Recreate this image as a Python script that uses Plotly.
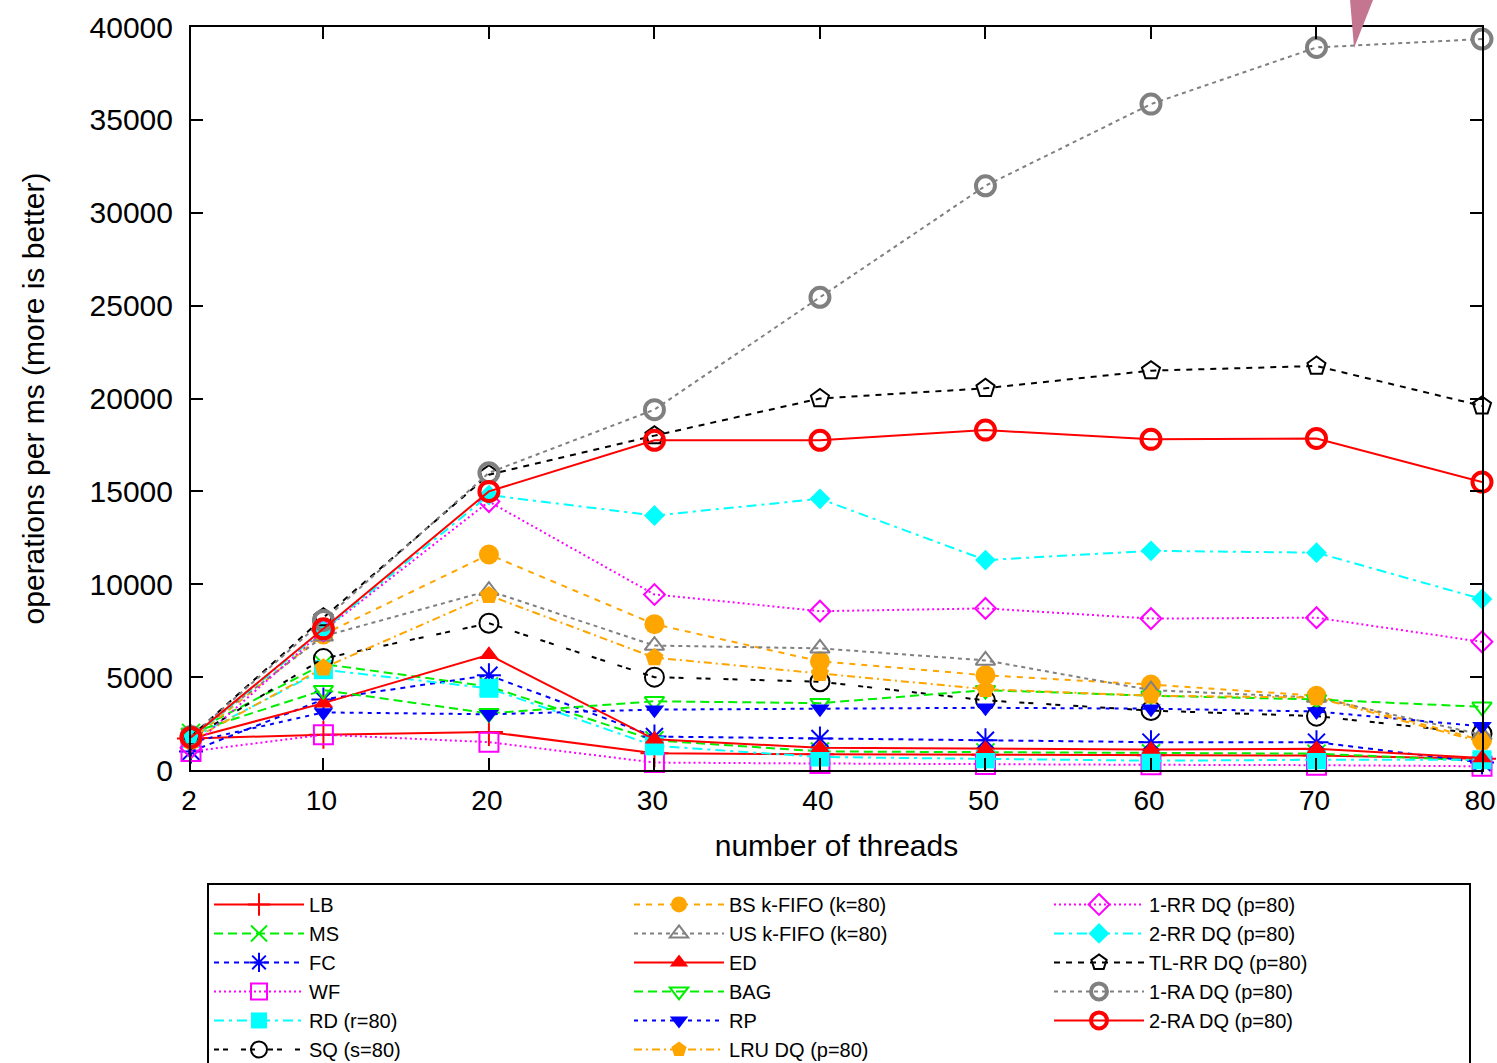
import plotly.graph_objects as go

# ---------------- data ----------------
threads = [2, 10, 20, 30, 40, 50, 60, 70, 80]
y_tick_values = [0, 5000, 10000, 15000, 20000, 25000, 30000, 35000, 40000]
x_tick_values = [2, 10, 20, 30, 40, 50, 60, 70, 80]

lb = [1700, 1900, 2050, 900, 850, 820, 800, 780, 600]
ms = [2000, 5700, 4500, 1600, 1000, 950, 900, 880, 500]
fc = [1000, 3800, 5100, 1800, 1700, 1600, 1500, 1500, 400]
wf = [1000, 1900, 1500, 400, 350, 300, 280, 260, 200]
rd = [1700, 5400, 4400, 1300, 700, 600, 500, 550, 550]
sq = [1700, 6000, 7900, 5000, 4750, 3750, 3200, 2900, 1950]
bs_kfifo = [1600, 7300, 11600, 7850, 5850, 5100, 4600, 4000, 1600]
us_kfifo = [1800, 7200, 9650, 6700, 6550, 5900, 4300, 3900, 1900]
ed = [1700, 3600, 6200, 1650, 1200, 1150, 1100, 1150, 650]
bag = [2000, 4300, 3050, 3700, 3600, 4300, 4000, 3800, 3400]
rp = [1500, 3100, 3000, 3250, 3300, 3350, 3300, 3150, 2350]
lru_dq = [1600, 5500, 9400, 6050, 5200, 4350, 4000, 3900, 1500]
rr1_dq = [1200, 7500, 14450, 9450, 8550, 8700, 8150, 8200, 6900]
rr2_dq = [1700, 7500, 14800, 13700, 14600, 11300, 11800, 11700, 9200]
tlrr_dq = [1800, 8200, 15900, 18000, 20000, 20550, 21500, 21750, 19600]
ra1_dq = [1800, 8050, 16000, 19400, 25450, 31450, 35850, 38900, 39350]
ra2_dq = [1750, 7600, 15000, 17750, 17750, 18300, 17800, 17850, 15500]

names = ["LB", "MS", "FC", "WF", "RD (r=80)", "SQ (s=80)",
         "BS k-FIFO (k=80)", "US k-FIFO (k=80)", "ED", "BAG", "RP", "LRU DQ (p=80)",
         "1-RR DQ (p=80)", "2-RR DQ (p=80)", "TL-RR DQ (p=80)", "1-RA DQ (p=80)", "2-RA DQ (p=80)"]
values = [lb, ms, fc, wf, rd, sq, bs_kfifo, us_kfifo, ed, bag, rp, lru_dq,
          rr1_dq, rr2_dq, tlrr_dq, ra1_dq, ra2_dq]

# ---------------- styles ----------------
RED, GREEN, BLUE, MAG, CYAN = "#ff0000", "#00ee00", "#0000ff", "#ff00ff", "#00ffff"
ORANGE, GREY, BLACK = "#ffa500", "#808080", "#000000"
styles = [
    # color, dash, symbol, size, marker line width
    (RED, "solid", "cross-thin", 20, 2),
    (GREEN, "9px,5px", "x-thin", 18, 2),
    (BLUE, "5px,5px", "asterisk", 20, 2),
    (MAG, "2px,3px", "square-open", 19, 2),
    (CYAN, "10px,5px,3px,5px", "square", 19, 0),
    (BLACK, "5px,4px,5px,13px", "circle-open", 19, 2),
    (ORANGE, "6px,6px", "circle", 20, 0),
    (GREY, "4px,4px", "triangle-up-open", 17, 2),
    (RED, "solid", "triangle-up", 17, 0),
    (GREEN, "9px,5px", "triangle-down-open", 17, 2),
    (BLUE, "4px,5px", "triangle-down", 17, 0),
    (ORANGE, "8px,4px,2px,4px", "pentagon", 19, 0),
    (MAG, "2px,3px", "diamond-open", 16, 2),
    (CYAN, "10px,5px,3px,5px", "diamond", 16, 0),
    (BLACK, "6px,6px", "pentagon-open", 19, 2),
    (GREY, "4px,4px", "circle-open", 19, 4),
    (RED, "solid", "circle-open", 19, 4),
]
# legend is filled row by row in plotly; ranks reproduce gnuplot's column layout
legend_ranks = [1, 4, 7, 10, 13, 16, 2, 5, 8, 11, 14, 17, 3, 6, 9, 12, 15]

FONT = "Liberation Sans, Arial, Helvetica, sans-serif"

fig = go.Figure()
for name, vals, (color, dash, symbol, size, mlw), rank in zip(names, values, styles, legend_ranks):
    fig.add_trace(go.Scatter(
        x=threads, y=vals, name=name, mode="lines+markers",
        line=dict(color=color, width=2, dash=dash),
        marker=dict(symbol=symbol, size=size, color=color,
                    line=dict(color=color, width=mlw)),
        cliponaxis=False, legendrank=rank,
    ))

axis_common = dict(
    showline=True, linecolor="black", linewidth=2, mirror="ticks",
    ticks="inside", ticklen=12, tickwidth=2, tickcolor="black",
    showgrid=False, zeroline=False, ticklabeloverflow="allow",
)

fig.update_layout(
    width=1497, height=1063,
    margin=dict(l=191, r=15, t=27, b=293, autoexpand=False),
    paper_bgcolor="white", plot_bgcolor="white",
    font=dict(family=FONT, size=30, color="black"),
    xaxis=dict(range=[2, 80], tickvals=x_tick_values, ticklabelstandoff=4, ticklabelshift=-2,
               tickfont=dict(family=FONT, size=28, color="black"),
               title=dict(text="number of threads", font=dict(size=30), standoff=20),
               **axis_common),
    yaxis=dict(range=[0, 40000], tickvals=y_tick_values, tickformat="d", ticklabelstandoff=10,
               tickfont=dict(family=FONT, size=30, color="black"),
               title=dict(text="operations per ms (more is better)", font=dict(size=30), standoff=36),
               **axis_common),
    showlegend=True,
    legend=dict(
        orientation="h", x=0.0124, y=-0.152, xanchor="left", yanchor="top",
        xref="paper", yref="paper",
        entrywidth=315, entrywidthmode="pixels", itemwidth=90,
        bordercolor="black", borderwidth=2, bgcolor="white",
        font=dict(family=FONT, size=20, color="black"),
        traceorder="normal",
    ),
    shapes=[dict(type="path", xref="paper", yref="paper", layer="above",
                 path="M 0.8978,1.0363 L 0.9156,1.0363 L 0.9009,0.9717 Z",
                 fillcolor="#c4758f", line=dict(width=0))],
)

fig.write_html("out.html", config={"displayModeBar": False},
               post_script="document.body.style.margin='0';document.body.style.overflow='hidden';")
